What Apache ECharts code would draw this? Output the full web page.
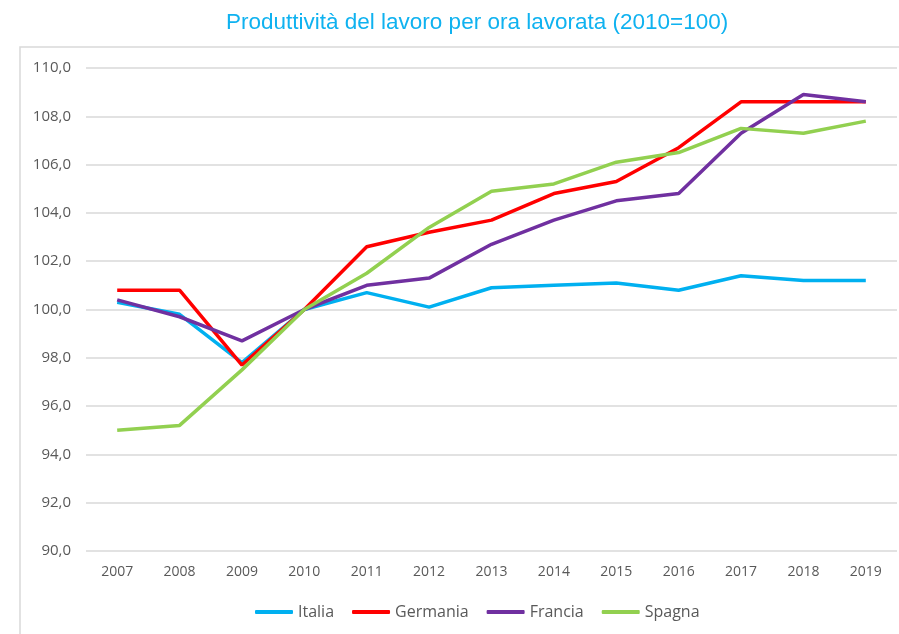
<!DOCTYPE html>
<html>
<head>
<meta charset="utf-8">
<script src="https://cdn.jsdelivr.net/npm/echarts@6/dist/echarts.min.js"></script>
<style>
  html, body { margin: 0; padding: 0; background: #fff; }
  #chart { width: 899px; height: 634px; }
</style>
</head>
<body>
<div id="chart"></div>
<script>
const years = ['2007', '2008', '2009', '2010', '2011', '2012', '2013', '2014', '2015', '2016', '2017', '2018', '2019']
const italia = [100.3, 99.8, 97.8, 100.0, 100.7, 100.1, 100.9, 101.0, 101.1, 100.8, 101.4, 101.2, 101.2]
const germania = [100.8, 100.8, 97.7, 100.0, 102.6, 103.2, 103.7, 104.8, 105.3, 106.7, 108.6, 108.6, 108.6]
const francia = [100.4, 99.7, 98.7, 100.0, 101.0, 101.3, 102.7, 103.7, 104.5, 104.8, 107.3, 108.9, 108.6]
const spagna = [95.0, 95.2, 97.5, 100.0, 101.5, 103.4, 104.9, 105.2, 106.1, 106.5, 107.5, 107.3, 107.8]

const chart = echarts.init(document.getElementById('chart'))

function line(name, data, color) {
  return {
    name: name,
    type: 'line',
    data: data,
    symbol: 'none',
    smooth: false,
    lineStyle: { color: color, width: 3.5 },
    itemStyle: { color: color }
  }
}

chart.setOption({
  animation: false,
  backgroundColor: '#fff',
  title: {
    text: 'Produttività del lavoro per ora lavorata (2010=100)',
    left: 221,
    top: 6,
    textStyle: {
      color: '#0fb2f0',
      fontSize: 22.5,
      fontWeight: 'normal',
      fontFamily: 'Liberation Sans'
    }
  },
  graphic: [{
    type: 'polyline',
    shape: { points: [[20, 634], [20, 47], [899, 47]] },
    style: { stroke: '#d9d9d9', lineWidth: 1.5, fill: null }
  }],
  legend: {
    bottom: 9,
    left: 250,
    icon: 'roundRect',
    itemWidth: 38,
    itemHeight: 4,
    itemGap: 18,
    textStyle: { color: '#595959', fontSize: 16, fontFamily: 'Open Sans' }
  },
  grid: { left: 86, right: 2, top: 68, bottom: 83 },
  xAxis: {
    type: 'category',
    data: years,
    boundaryGap: true,
    axisLine: { show: false },
    axisTick: { show: false },
    axisLabel: { color: '#595959', fontSize: 14, fontFamily: 'Open Sans', margin: 14 }
  },
  yAxis: {
    type: 'value',
    min: 90,
    max: 110,
    interval: 2,
    axisLine: { show: false },
    axisTick: { show: false },
    axisLabel: {
      color: '#595959',
      fontSize: 15,
      fontFamily: 'Open Sans',
      margin: 15,
      formatter: v => v.toFixed(1).replace('.', ',')
    },
    splitLine: { lineStyle: { color: '#d9d9d9', width: 1.5 } }
  },
  series: [
    line('Italia', italia, '#00b0f0'),
    line('Germania', germania, '#ff0000'),
    line('Francia', francia, '#7030a0'),
    line('Spagna', spagna, '#92d050')
  ]
})
</script>
</body>
</html>
